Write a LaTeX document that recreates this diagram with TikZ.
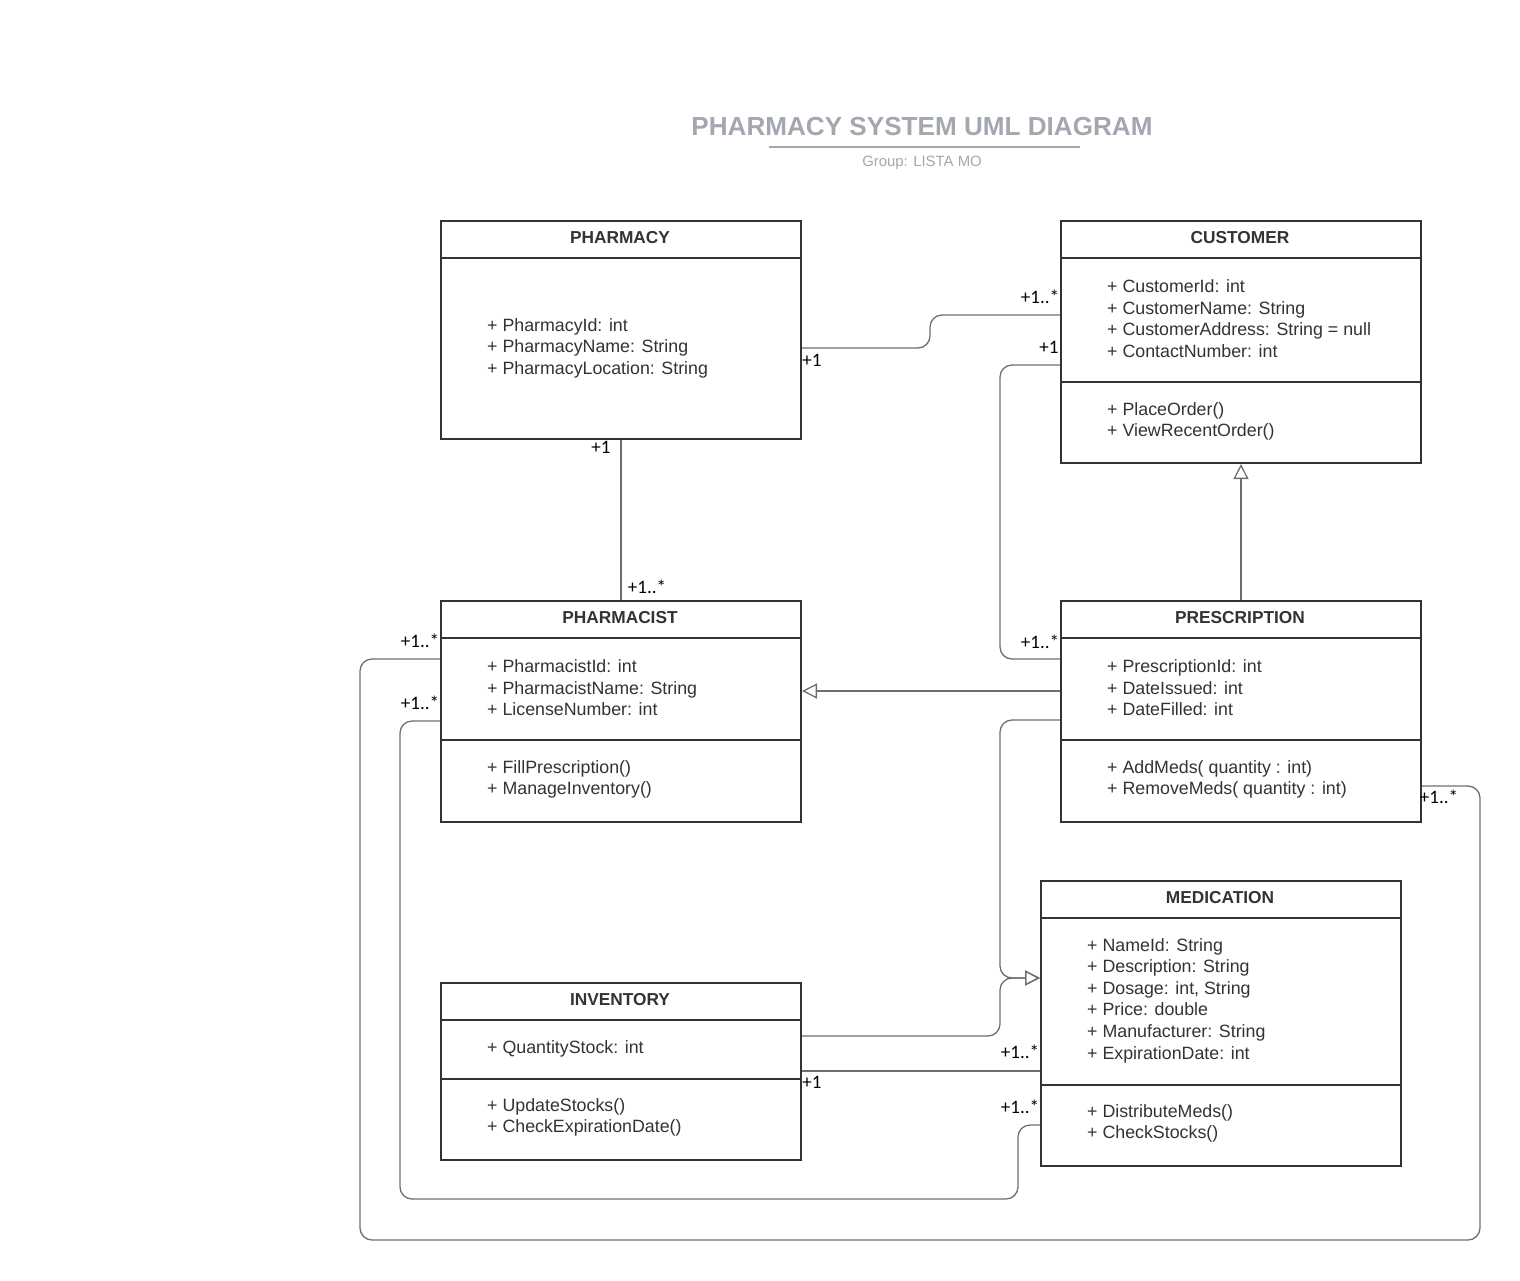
\documentclass[tikz,border=0pt]{standalone}
\usepackage{fontspec}
\setmainfont{Liberation Sans}
\newfontfamily\mfont{Carlito}
\usetikzlibrary{arrows.meta}
\definecolor{boxc}{HTML}{333333}
\definecolor{linec}{HTML}{6E6E6E}
\definecolor{titlec}{HTML}{A3A7AF}
\begin{document}
\begin{tikzpicture}[x=1pt,y=-1pt,
  cls/.style={draw=boxc, line width=2pt, inner sep=0pt, anchor=north west, fill=white},
  divider/.style={draw=boxc, line width=2pt},
  clsname/.style={font=\fontsize{17.3}{20}\selectfont\bfseries, text=boxc, inner sep=0pt},
  members/.style={font=\fontsize{17.8}{21.6}\selectfont, text=boxc, inner sep=0pt, align=left, anchor=west},
  conn/.style={draw=linec, line width=1.3pt, rounded corners=12pt},
  gen/.style={-{Triangle[open, length=15pt, width=15pt, line width=1.3pt]}},
  mult/.style={font=\mfont\fontsize{19}{22}\selectfont, text=black, inner sep=0pt}]
\useasboundingbox (0,0) rectangle (1520,1280);

% title
\node[font=\fontsize{26.1}{30}\selectfont\bfseries, text=titlec, inner sep=0pt] (title) at (922,127) {PHARMACY SYSTEM UML DIAGRAM};
\coordinate (ulA) at (769,147);
\coordinate (ulB) at (1080,147);
\draw[titlec, line width=2pt] (ulA) -- (ulB);
\node[font=\fontsize{14.9}{17}\selectfont, text=titlec, inner sep=0pt] (group) at (922,162.5) {Group: LISTA MO};

% PHARMACY
\node[cls, minimum width=360pt, minimum height=218pt] (pharmacy) at (440,220) {};
\draw[divider] (pharmacy.west |- 0,258) -- (pharmacy.east |- 0,258);
\node[clsname] (pharmacyT) at (620,237.5) {PHARMACY};
\node[members] (pharmacyA) at (487,348) {+ PharmacyId: int\\+ PharmacyName: String\\+ PharmacyLocation: String};

% CUSTOMER
\node[cls, minimum width=360pt, minimum height=242pt] (customer) at (1060,220) {};
\draw[divider] (customer.west |- 0,258) -- (customer.east |- 0,258);
\draw[divider] (customer.west |- 0,382) -- (customer.east |- 0,382);
\node[clsname] (customerT) at (1240,237.5) {CUSTOMER};
\node[members] (customerA) at (1107,318.5) {+ CustomerId: int\\+ CustomerName: String\\+ CustomerAddress: String = null\\+ ContactNumber: int};
\node[members] (customerM) at (1107,421.5) {+ PlaceOrder()\\+ ViewRecentOrder()};

% PHARMACIST
\node[cls, minimum width=360pt, minimum height=221pt] (pharmacist) at (440,600) {};
\draw[divider] (pharmacist.west |- 0,638) -- (pharmacist.east |- 0,638);
\draw[divider] (pharmacist.west |- 0,740) -- (pharmacist.east |- 0,740);
\node[clsname] (pharmacistT) at (620,617.5) {PHARMACIST};
\node[members] (pharmacistA) at (487,688) {+ PharmacistId: int\\+ PharmacistName: String\\+ LicenseNumber: int};
\node[members] (pharmacistM) at (487,779.5) {+ FillPrescription()\\+ ManageInventory()};

% PRESCRIPTION
\node[cls, minimum width=360pt, minimum height=221pt] (prescription) at (1060,600) {};
\draw[divider] (prescription.west |- 0,638) -- (prescription.east |- 0,638);
\draw[divider] (prescription.west |- 0,740) -- (prescription.east |- 0,740);
\node[clsname] (prescriptionT) at (1240,617.5) {PRESCRIPTION};
\node[members] (prescriptionA) at (1107,688) {+ PrescriptionId: int\\+ DateIssued: int\\+ DateFilled: int};
\node[members] (prescriptionM) at (1107,779.5) {+ AddMeds( quantity : int)\\+ RemoveMeds( quantity : int)};

% MEDICATION
\node[cls, minimum width=360pt, minimum height=285pt] (medication) at (1040,880) {};
\draw[divider] (medication.west |- 0,918) -- (medication.east |- 0,918);
\draw[divider] (medication.west |- 0,1085) -- (medication.east |- 0,1085);
\node[clsname] (medicationT) at (1220,897.5) {MEDICATION};
\node[members] (medicationA) at (1087,1000.5) {+ NameId: String\\+ Description: String\\+ Dosage: int, String\\+ Price: double\\+ Manufacturer: String\\+ ExpirationDate: int};
\node[members] (medicationM) at (1087,1123.5) {+ DistributeMeds()\\+ CheckStocks()};

% INVENTORY
\node[cls, minimum width=360pt, minimum height=177pt] (inventory) at (440,982) {};
\draw[divider] (inventory.west |- 0,1020) -- (inventory.east |- 0,1020);
\draw[divider] (inventory.west |- 0,1079) -- (inventory.east |- 0,1079);
\node[clsname] (inventoryT) at (620,999.5) {INVENTORY};
\node[members] (inventoryA) at (487,1048.5) {+ QuantityStock: int};
\node[members] (inventoryM) at (487,1117.5) {+ UpdateStocks()\\+ CheckExpirationDate()};

% connectors
\draw[conn] (pharmacy.east |- 0,348) -- (930,348) -- (930,315) -- (customer.west |- 0,315);
\draw[conn] (customer.west |- 0,365) -- (1000,365) -- (1000,659) -- (prescription.west |- 0,659);
\draw[conn, gen] (prescription.north) -- (customer.south);
\draw[conn, gen] (prescription.west |- 0,691) -- (pharmacist.east |- 0,691);
\draw[conn] (pharmacy.south) -- (pharmacist.north);
\draw[conn, gen] (prescription.west |- 0,720) -- (1000,720) -- (1000,978) -- (medication.west |- 0,978);
\draw[conn, gen] (inventory.east |- 0,1036) -- (1000,1036) -- (1000,978) -- (medication.west |- 0,978);
\draw[conn] (inventory.east |- 0,1071) -- (medication.west |- 0,1071);
\draw[conn] (medication.west |- 0,1125) -- (1018,1125) -- (1018,1199) -- (400,1199) -- (400,721) -- (pharmacist.west |- 0,721);
\draw[conn] (pharmacist.west |- 0,659) -- (360,659) -- (360,1240) -- (1480,1240) -- (1480,786) -- (prescription.east |- 0,786);

% multiplicities
\node[mult] (m1) at (812,360) {+1};
\node[mult] (m2) at (1040,297) {+1..*};
\node[mult] (m3) at (1049,347) {+1};
\node[mult] (m4) at (1040,642) {+1..*};
\node[mult] (m5) at (601,447) {+1};
\node[mult] (m6) at (647,587) {+1..*};
\node[mult] (m7) at (420,641) {+1..*};
\node[mult] (m8) at (420,703) {+1..*};
\node[mult] (m9) at (1439,797) {+1..*};
\node[mult] (m10) at (812,1082) {+1};
\node[mult] (m11) at (1020,1052) {+1..*};
\node[mult] (m12) at (1020,1107) {+1..*};
\end{tikzpicture}
\end{document}
